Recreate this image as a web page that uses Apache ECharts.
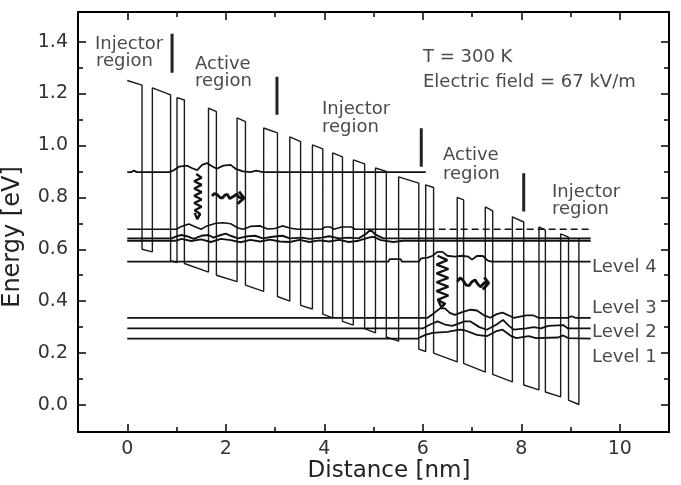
<!DOCTYPE html>
<html>
<head>
<meta charset="utf-8">
<script src="https://cdn.jsdelivr.net/npm/echarts@6.0.0/dist/echarts.min.js"></script>
<style>
  html, body { margin: 0; padding: 0; background: #fff; }
  #chart { width: 681px; height: 485px; }
</style>
</head>
<body>
<div id="chart"></div>
<script>
// conduction band edge, [distance nm, energy eV]
const profile = [
  [0.00, 1.250], [0.30, 1.232],
  [0.30, 0.600], [0.51, 0.590],
  [0.51, 1.222], [0.88, 1.195],
  [0.88, 0.556], [1.01, 0.549],
  [1.01, 1.184], [1.16, 1.175],
  [1.16, 0.545], [1.65, 0.512],
  [1.65, 1.144], [1.81, 1.130],
  [1.81, 0.500], [2.23, 0.475],
  [2.23, 1.106], [2.40, 1.092],
  [2.40, 0.462], [2.77, 0.438],
  [2.77, 1.067], [3.05, 1.048],
  [3.05, 0.418], [3.30, 0.400],
  [3.30, 1.033], [3.52, 1.015],
  [3.52, 0.384], [3.76, 0.370],
  [3.76, 1.002], [3.97, 0.987],
  [3.97, 0.350], [4.17, 0.336],
  [4.17, 0.971], [4.37, 0.956],
  [4.37, 0.322], [4.59, 0.308],
  [4.59, 0.944], [4.82, 0.929],
  [4.82, 0.294], [5.04, 0.278],
  [5.04, 0.913], [5.26, 0.900],
  [5.26, 0.262], [5.51, 0.246],
  [5.51, 0.879], [5.92, 0.855],
  [5.92, 0.215], [6.06, 0.206],
  [6.06, 0.848], [6.22, 0.838],
  [6.22, 0.200], [6.70, 0.166],
  [6.70, 0.800], [6.83, 0.790],
  [6.83, 0.160], [7.27, 0.127],
  [7.27, 0.763], [7.42, 0.748],
  [7.42, 0.118], [7.82, 0.089],
  [7.82, 0.725], [8.05, 0.705],
  [8.05, 0.077], [8.36, 0.058],
  [8.36, 0.686], [8.49, 0.674],
  [8.49, 0.050], [8.80, 0.031],
  [8.80, 0.659], [8.96, 0.647],
  [8.96, 0.019], [9.17, 0.002],
  [9.17, 0.640]
];

// subband levels (with wavefunction wiggles)
const levelUpper = [[0,0.897],[0.08,0.897],[0.13,0.903],[0.2,0.897],[0.85,0.897],[0.95,0.905],[1.05,0.918],[1.22,0.922],[1.32,0.912],[1.42,0.905],[1.52,0.925],[1.62,0.932],[1.72,0.92],[1.82,0.91],[1.95,0.922],[2.1,0.925],[2.2,0.91],[2.35,0.9],[2.5,0.897],[2.62,0.903],[2.75,0.897],[6.06,0.897]];
const level677 = [[0,0.677],[1.0,0.677],[1.1,0.688],[1.25,0.697],[1.4,0.685],[1.5,0.677],[1.62,0.69],[1.8,0.7],[1.95,0.702],[2.1,0.698],[2.25,0.682],[2.35,0.677],[2.5,0.688],[2.7,0.69],[2.85,0.678],[3.0,0.68],[3.15,0.69],[3.3,0.682],[3.45,0.677],[3.95,0.677],[4.02,0.686],[4.12,0.686],[4.2,0.677],[4.35,0.686],[4.55,0.686],[4.62,0.677],[6.1,0.677]];
const level677dash = [[6.1,0.677],[9.41,0.677]];
const level642 = [[0,0.642],[0.9,0.642],[1.0,0.65],[1.1,0.655],[1.25,0.648],[1.35,0.64],[1.5,0.652],[1.65,0.655],[1.75,0.645],[1.9,0.655],[2.0,0.66],[2.1,0.652],[2.25,0.642],[2.45,0.65],[2.6,0.652],[2.75,0.642],[2.95,0.648],[3.15,0.652],[3.3,0.642],[3.55,0.645],[3.7,0.64],[3.95,0.645],[4.1,0.65],[4.3,0.642],[4.5,0.645],[4.7,0.642],[4.85,0.66],[4.94,0.675],[5.05,0.655],[5.2,0.642],[9.41,0.642]];
const level633 = [[0,0.633],[1.0,0.633],[1.1,0.64],[1.3,0.632],[1.5,0.638],[1.7,0.628],[1.9,0.64],[2.1,0.635],[2.3,0.627],[2.5,0.636],[2.7,0.63],[2.9,0.637],[3.1,0.63],[3.3,0.628],[3.5,0.636],[3.7,0.628],[3.9,0.634],[4.1,0.63],[4.3,0.636],[4.5,0.628],[4.7,0.633],[4.9,0.645],[5.0,0.648],[5.15,0.635],[5.4,0.628],[5.6,0.633],[9.41,0.633]];
const level4 = [[0,0.552],[5.3,0.552],[5.33,0.562],[5.55,0.562],[5.58,0.552],[5.92,0.552],[5.97,0.565],[6.1,0.568],[6.2,0.575],[6.3,0.59],[6.4,0.59],[6.5,0.575],[6.65,0.572],[6.8,0.575],[6.92,0.572],[7.0,0.56],[7.1,0.574],[7.22,0.574],[7.32,0.556],[7.4,0.552],[9.41,0.552]];
const level3 = [[0,0.336],[6.1,0.336],[6.2,0.35],[6.35,0.372],[6.45,0.372],[6.55,0.355],[6.65,0.347],[6.8,0.358],[6.97,0.367],[7.1,0.364],[7.25,0.345],[7.37,0.336],[7.5,0.35],[7.62,0.356],[7.75,0.345],[7.85,0.336],[8.1,0.345],[8.25,0.345],[8.35,0.336],[8.95,0.336],[9.02,0.342],[9.1,0.336],[9.41,0.336]];
const level2 = [[0,0.295],[6.0,0.295],[6.15,0.31],[6.3,0.322],[6.45,0.31],[6.6,0.305],[6.85,0.322],[6.97,0.322],[7.15,0.3],[7.3,0.29],[7.5,0.31],[7.63,0.328],[7.75,0.305],[7.85,0.29],[8.1,0.295],[8.25,0.3],[8.4,0.295],[8.55,0.305],[8.85,0.308],[8.95,0.295],[9.41,0.295]];
const level1 = [[0,0.256],[5.9,0.256],[6.05,0.27],[6.2,0.278],[6.5,0.282],[6.75,0.29],[6.85,0.288],[7.1,0.27],[7.3,0.265],[7.5,0.285],[7.62,0.29],[7.8,0.265],[7.9,0.258],[8.15,0.265],[8.3,0.258],[8.75,0.26],[8.85,0.268],[8.95,0.258],[9.41,0.256]];

// transitions (wavy arrows)
const zig1 = [[1.40,0.890],[1.51,0.876],[1.36,0.862],[1.51,0.848],[1.36,0.834],[1.51,0.820],[1.36,0.806],[1.51,0.792],[1.36,0.778],[1.51,0.764],[1.37,0.750],[1.48,0.736],[1.42,0.718]];
const zig1Head = [[1.37,0.740],[1.42,0.716],[1.48,0.735]];
const wave1 = [[1.72,0.805],[1.77,0.815],[1.83,0.81],[1.88,0.8],[1.93,0.797],[1.98,0.808],[2.03,0.812],[2.08,0.795],[2.12,0.79],[2.17,0.805],[2.22,0.812],[2.27,0.8],[2.37,0.797]];
const wave1Head = [[2.27,0.822],[2.37,0.797],[2.24,0.775]];
const zig2 = [[6.30,0.575],[6.50,0.558],[6.28,0.541],[6.52,0.524],[6.28,0.507],[6.52,0.490],[6.28,0.473],[6.52,0.456],[6.28,0.439],[6.52,0.422],[6.30,0.405],[6.45,0.390],[6.38,0.378]];
const zig2Head = [[6.32,0.400],[6.38,0.376],[6.46,0.394]];
const wave2 = [[6.70,0.475],[6.76,0.49],[6.82,0.48],[6.88,0.462],[6.94,0.46],[7.0,0.475],[7.06,0.482],[7.12,0.465],[7.18,0.455],[7.24,0.47],[7.34,0.47]];
const wave2Head = [[7.25,0.492],[7.34,0.47],[7.22,0.445]];

// region separators: [x, yTop, yBottom]
const separators = [[0.91, 1.43, 1.28], [3.04, 1.265, 1.118], [5.97, 1.066, 0.918], [8.05, 0.893, 0.745]];

const xLabels = [0, 2, 4, 6, 8, 10];
const xMinor = [1, 3, 5, 7, 9];
const yLabels = [0, 0.2, 0.4, 0.6, 0.8, 1.0, 1.2, 1.4];
const yMinor = [0.1, 0.3, 0.5, 0.7, 0.9, 1.1, 1.3];

const FONT = '"DejaVu Sans", Verdana, sans-serif';

function axisX(grid, pos, ticks, len, labels, line) {
  return {
    gridIndex: grid, type: 'value', position: pos, min: -1, max: 11,
    axisLine: { show: line, onZero: false, lineStyle: { color: '#000', width: 2 } },
    axisTick: { inside: true, length: len, customValues: ticks, lineStyle: { color: '#000', width: 1.5 } },
    axisLabel: labels ? { customValues: labels, margin: 8, fontSize: 19, color: '#333', fontFamily: FONT } : { show: false },
    splitLine: { show: false }
  };
}
function axisY(grid, pos, ticks, len, labels, line) {
  return {
    gridIndex: grid, type: 'value', position: pos, min: -0.104, max: 1.514,
    axisLine: { show: line, onZero: false, lineStyle: { color: '#000', width: 2 } },
    axisTick: { inside: true, length: len, customValues: ticks, lineStyle: { color: '#000', width: 1.5 } },
    axisLabel: labels ? { customValues: labels, margin: 10, fontSize: 19, color: '#333', fontFamily: FONT,
      formatter: v => v.toFixed(1) } : { show: false },
    splitLine: { show: false }
  };
}

function lineSeries(data, width, color, type) {
  return {
    type: 'line', xAxisIndex: 0, yAxisIndex: 0, data: data, symbol: 'none', silent: true,
    animation: false, lineStyle: { color: color || '#111', width: width, type: type || 'solid' }
  };
}

const series = [
  lineSeries(profile, 1.4, '#1a1a1a'),
  lineSeries(levelUpper, 1.8),
  lineSeries(level677, 1.6),
  lineSeries(level677dash, 1.6, '#111', [7, 4]),
  lineSeries(level642, 1.9),
  lineSeries(level633, 1.9),
  lineSeries(level4, 1.8),
  lineSeries(level3, 1.8),
  lineSeries(level2, 1.8),
  lineSeries(level1, 1.8),
  lineSeries(zig1, 2.3),
  lineSeries(zig1Head, 2.3),
  lineSeries(wave1, 2.8),
  lineSeries(wave1Head, 2.8),
  lineSeries(zig2, 2.3),
  lineSeries(zig2Head, 2.3),
  lineSeries(wave2, 2.8),
  lineSeries(wave2Head, 2.8)
];
separators.forEach(s => series.push(lineSeries([[s[0], s[1]], [s[0], s[2]]], 3, '#222')));

function txt(text, x, y, size, color) {
  return {
    type: 'text', x: x, y: y, silent: true,
    style: { text: text, font: size + 'px ' + FONT, fill: color || '#4a4a4a',
      align: 'left', verticalAlign: 'middle', textAlign: 'left', textVerticalAlign: 'middle' }
  };
}

const graphics = [
  txt('Injector', 95, 44, 18), txt('region', 96, 61, 18),
  txt('Active', 195, 64, 18), txt('region', 195, 81, 18),
  txt('Injector', 322, 109, 18), txt('region', 322, 127, 18),
  txt('T = 300 K', 423, 57, 18), txt('Electric field = 67 kV/m', 423, 82, 18),
  txt('Active', 443, 155, 18), txt('region', 443, 174, 18),
  txt('Injector', 552, 192, 18), txt('region', 552, 209, 18),
  txt('Level 4', 592, 267, 18), txt('Level 3', 592, 308, 18),
  txt('Level 2', 592, 332, 18), txt('Level 1', 592, 357, 18),
  {
    type: 'text', x: 13, y: 237, rotation: Math.PI / 2, silent: true,
    style: { text: 'Energy [eV]', font: '24px ' + FONT, fill: '#222',
      align: 'center', verticalAlign: 'middle', textAlign: 'center', textVerticalAlign: 'middle' }
  },
  {
    type: 'text', x: 389, y: 471, silent: true,
    style: { text: 'Distance [nm]', font: '23px ' + FONT, fill: '#222',
      align: 'center', verticalAlign: 'middle', textAlign: 'center', textVerticalAlign: 'middle' }
  }
];

const chart = echarts.init(document.getElementById('chart'), null, { renderer: 'canvas' });
chart.setOption({
  backgroundColor: '#fff',
  animation: false,
  grid: [
    { left: 78, right: 12, top: 12, bottom: 53 },
    { left: 78, right: 12, top: 12, bottom: 53 }
  ],
  xAxis: [
    axisX(0, 'bottom', xLabels, 8, xLabels, true),
    axisX(0, 'top', xLabels, 8, null, true),
    axisX(1, 'bottom', xMinor, 5, null, false),
    axisX(1, 'top', xMinor, 5, null, false)
  ],
  yAxis: [
    axisY(0, 'left', yLabels, 8, yLabels, true),
    axisY(0, 'right', yLabels, 8, null, true),
    axisY(1, 'left', yMinor, 5, null, false),
    axisY(1, 'right', yMinor, 5, null, false)
  ],
  series: series,
  graphic: graphics
});
</script>
</body>
</html>
